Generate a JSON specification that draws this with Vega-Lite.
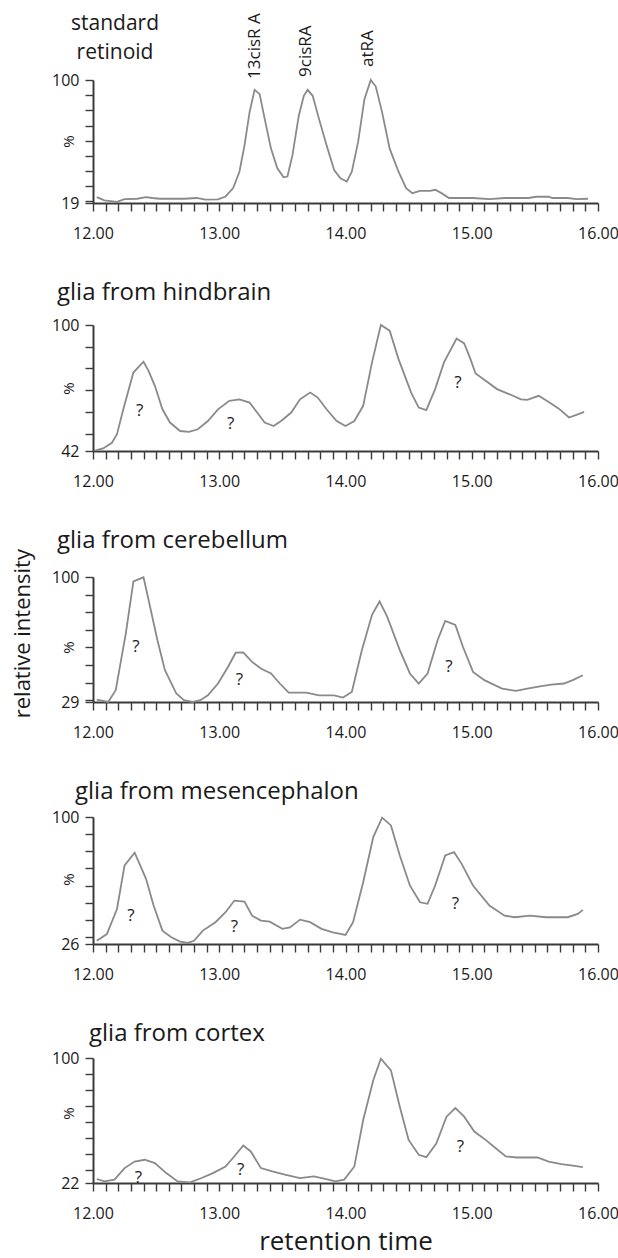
{
"$schema": "https://vega.github.io/schema/vega-lite/v6.json",
"background": "white",
"padding": {"top": 13, "left": 11, "right": 0, "bottom": 3},
"title": {"text": "relative intensity", "orient": "left", "anchor": "middle", "fontSize": 22, "offset": 17},
"spacing": 40,
"config": {
  "view": {"stroke": null},
  "font": "Open Sans",
  "axis": {"grid": false, "domainColor": "#3a3a3a", "domainWidth": 2, "tickColor": "#3a3a3a", "tickWidth": 1.4, "tickSize": 8, "labelFont": "Open Sans", "labelFontSize": 16, "labelColor": "#1a1a1a", "labelOverlap": false, "labelFlush": false, "titleFont": "Open Sans", "titleFontWeight": "normal", "titleColor": "#1a1a1a"},
  "axisX": {"labelPadding": 14},
  "axisY": {"labelPadding": 6, "titleFontSize": 15, "titleX": -25, "titleBaseline": "middle", "titleAlign": "center", "titleAngle": -90},
  "title": {"font": "Open Sans", "fontWeight": "normal", "fontSize": 24, "color": "#1a1a1a", "baseline": "bottom"}
},
"datasets": {
  "curves": [
{"sample":"standard","time":12.03,"intensity":22.9},{"sample":"standard","time":12.09,"intensity":20.7},{"sample":"standard","time":12.19,"intensity":19.7},{"sample":"standard","time":12.25,"intensity":21.6},{"sample":"standard","time":12.35,"intensity":21.8},{"sample":"standard","time":12.42,"intensity":22.9},{"sample":"standard","time":12.47,"intensity":22.3},{"sample":"standard","time":12.53,"intensity":21.8},{"sample":"standard","time":12.63,"intensity":21.8},{"sample":"standard","time":12.72,"intensity":21.8},{"sample":"standard","time":12.82,"intensity":22.3},{"sample":"standard","time":12.89,"intensity":21.2},{"sample":"standard","time":12.99,"intensity":21.4},{"sample":"standard","time":13.05,"intensity":23.3},{"sample":"standard","time":13.11,"intensity":28.8},{"sample":"standard","time":13.16,"intensity":39.6},{"sample":"standard","time":13.20,"intensity":57.0},{"sample":"standard","time":13.24,"intensity":78.7},{"sample":"standard","time":13.28,"intensity":93.5},{"sample":"standard","time":13.32,"intensity":90.7},{"sample":"standard","time":13.36,"intensity":74.4},{"sample":"standard","time":13.41,"intensity":54.8},{"sample":"standard","time":13.46,"intensity":41.8},{"sample":"standard","time":13.51,"intensity":35.9},{"sample":"standard","time":13.54,"intensity":36.4},{"sample":"standard","time":13.58,"intensity":50.5},{"sample":"standard","time":13.63,"intensity":76.5},{"sample":"standard","time":13.67,"intensity":89.6},{"sample":"standard","time":13.70,"intensity":93.5},{"sample":"standard","time":13.74,"intensity":89.6},{"sample":"standard","time":13.79,"intensity":74.4},{"sample":"standard","time":13.85,"intensity":57.0},{"sample":"standard","time":13.91,"intensity":40.7},{"sample":"standard","time":13.96,"intensity":35.3},{"sample":"standard","time":14.01,"intensity":33.1},{"sample":"standard","time":14.05,"intensity":39.6},{"sample":"standard","time":14.10,"intensity":59.2},{"sample":"standard","time":14.15,"intensity":87.4},{"sample":"standard","time":14.20,"intensity":100},{"sample":"standard","time":14.24,"intensity":95.7},{"sample":"standard","time":14.29,"intensity":78.7},{"sample":"standard","time":14.35,"intensity":54.8},{"sample":"standard","time":14.42,"intensity":39.6},{"sample":"standard","time":14.48,"intensity":28.8},{"sample":"standard","time":14.53,"intensity":25.5},{"sample":"standard","time":14.59,"intensity":27.0},{"sample":"standard","time":14.67,"intensity":27.0},{"sample":"standard","time":14.71,"intensity":27.7},{"sample":"standard","time":14.76,"intensity":25.5},{"sample":"standard","time":14.82,"intensity":22.3},{"sample":"standard","time":14.92,"intensity":22.3},{"sample":"standard","time":15.01,"intensity":22.3},{"sample":"standard","time":15.14,"intensity":21.6},{"sample":"standard","time":15.26,"intensity":22.3},{"sample":"standard","time":15.45,"intensity":22.3},{"sample":"standard","time":15.51,"intensity":23.1},{"sample":"standard","time":15.61,"intensity":23.1},{"sample":"standard","time":15.64,"intensity":22.3},{"sample":"standard","time":15.76,"intensity":22.3},{"sample":"standard","time":15.83,"intensity":21.6},{"sample":"standard","time":15.92,"intensity":21.8},
{"sample":"hindbrain","time":12.02,"intensity":42.3},{"sample":"hindbrain","time":12.08,"intensity":43.2},{"sample":"hindbrain","time":12.15,"intensity":45.8},{"sample":"hindbrain","time":12.19,"intensity":49.7},{"sample":"hindbrain","time":12.24,"intensity":61.2},{"sample":"hindbrain","time":12.32,"intensity":78.1},{"sample":"hindbrain","time":12.40,"intensity":83.1},{"sample":"hindbrain","time":12.44,"intensity":78.9},{"sample":"hindbrain","time":12.49,"intensity":72.0},{"sample":"hindbrain","time":12.55,"intensity":61.2},{"sample":"hindbrain","time":12.61,"intensity":55.1},{"sample":"hindbrain","time":12.69,"intensity":51.2},{"sample":"hindbrain","time":12.76,"intensity":50.8},{"sample":"hindbrain","time":12.83,"intensity":52.0},{"sample":"hindbrain","time":12.91,"intensity":55.8},{"sample":"hindbrain","time":12.99,"intensity":61.2},{"sample":"hindbrain","time":13.08,"intensity":65.1},{"sample":"hindbrain","time":13.16,"intensity":65.8},{"sample":"hindbrain","time":13.24,"intensity":64.3},{"sample":"hindbrain","time":13.30,"intensity":59.7},{"sample":"hindbrain","time":13.36,"intensity":55.1},{"sample":"hindbrain","time":13.43,"intensity":53.5},{"sample":"hindbrain","time":13.49,"intensity":55.8},{"sample":"hindbrain","time":13.57,"intensity":59.7},{"sample":"hindbrain","time":13.64,"intensity":65.8},{"sample":"hindbrain","time":13.72,"intensity":68.9},{"sample":"hindbrain","time":13.78,"intensity":66.6},{"sample":"hindbrain","time":13.85,"intensity":61.2},{"sample":"hindbrain","time":13.93,"intensity":55.8},{"sample":"hindbrain","time":14.00,"intensity":53.5},{"sample":"hindbrain","time":14.07,"intensity":55.8},{"sample":"hindbrain","time":14.14,"intensity":62.8},{"sample":"hindbrain","time":14.21,"intensity":82.8},{"sample":"hindbrain","time":14.28,"intensity":100},{"sample":"hindbrain","time":14.35,"intensity":97.4},{"sample":"hindbrain","time":14.42,"intensity":84.3},{"sample":"hindbrain","time":14.52,"intensity":68.9},{"sample":"hindbrain","time":14.58,"intensity":62.0},{"sample":"hindbrain","time":14.64,"intensity":60.8},{"sample":"hindbrain","time":14.71,"intensity":70.5},{"sample":"hindbrain","time":14.78,"intensity":82.8},{"sample":"hindbrain","time":14.88,"intensity":93.8},{"sample":"hindbrain","time":14.94,"intensity":91.5},{"sample":"hindbrain","time":14.99,"intensity":84.3},{"sample":"hindbrain","time":15.03,"intensity":77.7},{"sample":"hindbrain","time":15.11,"intensity":74.3},{"sample":"hindbrain","time":15.20,"intensity":70.5},{"sample":"hindbrain","time":15.30,"intensity":68.1},{"sample":"hindbrain","time":15.39,"intensity":65.8},{"sample":"hindbrain","time":15.44,"intensity":65.5},{"sample":"hindbrain","time":15.53,"intensity":67.4},{"sample":"hindbrain","time":15.61,"intensity":64.6},{"sample":"hindbrain","time":15.69,"intensity":61.5},{"sample":"hindbrain","time":15.77,"intensity":57.4},{"sample":"hindbrain","time":15.84,"intensity":58.9},{"sample":"hindbrain","time":15.89,"intensity":60.0},
{"sample":"cerebellum","time":12.03,"intensity":30.3},{"sample":"cerebellum","time":12.12,"intensity":29.0},{"sample":"cerebellum","time":12.18,"intensity":35.7},{"sample":"cerebellum","time":12.26,"intensity":68.0},{"sample":"cerebellum","time":12.32,"intensity":97.5},{"sample":"cerebellum","time":12.40,"intensity":99.8},{"sample":"cerebellum","time":12.44,"intensity":87.0},{"sample":"cerebellum","time":12.51,"intensity":64.2},{"sample":"cerebellum","time":12.57,"intensity":47.1},{"sample":"cerebellum","time":12.66,"intensity":33.8},{"sample":"cerebellum","time":12.72,"intensity":30.0},{"sample":"cerebellum","time":12.79,"intensity":29.0},{"sample":"cerebellum","time":12.85,"intensity":30.0},{"sample":"cerebellum","time":12.91,"intensity":32.8},{"sample":"cerebellum","time":12.99,"intensity":39.5},{"sample":"cerebellum","time":13.07,"intensity":49.0},{"sample":"cerebellum","time":13.13,"intensity":57.0},{"sample":"cerebellum","time":13.19,"intensity":57.2},{"sample":"cerebellum","time":13.26,"intensity":51.8},{"sample":"cerebellum","time":13.33,"intensity":48.0},{"sample":"cerebellum","time":13.41,"intensity":45.2},{"sample":"cerebellum","time":13.48,"intensity":39.5},{"sample":"cerebellum","time":13.55,"intensity":34.3},{"sample":"cerebellum","time":13.69,"intensity":34.3},{"sample":"cerebellum","time":13.79,"intensity":32.8},{"sample":"cerebellum","time":13.91,"intensity":32.8},{"sample":"cerebellum","time":13.98,"intensity":31.5},{"sample":"cerebellum","time":14.05,"intensity":34.7},{"sample":"cerebellum","time":14.13,"intensity":58.5},{"sample":"cerebellum","time":14.21,"intensity":78.5},{"sample":"cerebellum","time":14.27,"intensity":86.1},{"sample":"cerebellum","time":14.33,"intensity":77.5},{"sample":"cerebellum","time":14.43,"intensity":58.5},{"sample":"cerebellum","time":14.51,"intensity":45.2},{"sample":"cerebellum","time":14.58,"intensity":39.5},{"sample":"cerebellum","time":14.65,"intensity":45.2},{"sample":"cerebellum","time":14.73,"intensity":64.2},{"sample":"cerebellum","time":14.79,"intensity":75.1},{"sample":"cerebellum","time":14.87,"intensity":72.8},{"sample":"cerebellum","time":14.93,"intensity":60.4},{"sample":"cerebellum","time":15.01,"intensity":46.1},{"sample":"cerebellum","time":15.10,"intensity":41.4},{"sample":"cerebellum","time":15.24,"intensity":36.6},{"sample":"cerebellum","time":15.35,"intensity":35.3},{"sample":"cerebellum","time":15.44,"intensity":36.6},{"sample":"cerebellum","time":15.54,"intensity":37.9},{"sample":"cerebellum","time":15.63,"intensity":38.9},{"sample":"cerebellum","time":15.73,"intensity":39.5},{"sample":"cerebellum","time":15.80,"intensity":41.4},{"sample":"cerebellum","time":15.88,"intensity":44.2},
{"sample":"mesencephalon","time":12.03,"intensity":27.9},{"sample":"mesencephalon","time":12.11,"intensity":31.8},{"sample":"mesencephalon","time":12.19,"intensity":46.4},{"sample":"mesencephalon","time":12.25,"intensity":71.8},{"sample":"mesencephalon","time":12.33,"intensity":79.2},{"sample":"mesencephalon","time":12.42,"intensity":64.0},{"sample":"mesencephalon","time":12.48,"intensity":48.4},{"sample":"mesencephalon","time":12.55,"intensity":33.8},{"sample":"mesencephalon","time":12.62,"intensity":29.9},{"sample":"mesencephalon","time":12.69,"intensity":27.4},{"sample":"mesencephalon","time":12.75,"intensity":26.6},{"sample":"mesencephalon","time":12.80,"intensity":27.9},{"sample":"mesencephalon","time":12.87,"intensity":33.8},{"sample":"mesencephalon","time":12.97,"intensity":38.7},{"sample":"mesencephalon","time":13.05,"intensity":44.5},{"sample":"mesencephalon","time":13.12,"intensity":51.3},{"sample":"mesencephalon","time":13.20,"intensity":50.7},{"sample":"mesencephalon","time":13.26,"intensity":42.5},{"sample":"mesencephalon","time":13.33,"intensity":39.6},{"sample":"mesencephalon","time":13.40,"intensity":39.0},{"sample":"mesencephalon","time":13.50,"intensity":34.8},{"sample":"mesencephalon","time":13.56,"intensity":35.7},{"sample":"mesencephalon","time":13.64,"intensity":40.2},{"sample":"mesencephalon","time":13.72,"intensity":38.7},{"sample":"mesencephalon","time":13.81,"intensity":34.8},{"sample":"mesencephalon","time":13.90,"intensity":32.8},{"sample":"mesencephalon","time":14.00,"intensity":31.3},{"sample":"mesencephalon","time":14.06,"intensity":38.7},{"sample":"mesencephalon","time":14.14,"intensity":62.0},{"sample":"mesencephalon","time":14.22,"intensity":88.3},{"sample":"mesencephalon","time":14.29,"intensity":99.6},{"sample":"mesencephalon","time":14.36,"intensity":95.1},{"sample":"mesencephalon","time":14.43,"intensity":77.6},{"sample":"mesencephalon","time":14.51,"intensity":60.1},{"sample":"mesencephalon","time":14.59,"intensity":50.3},{"sample":"mesencephalon","time":14.65,"intensity":49.4},{"sample":"mesencephalon","time":14.71,"intensity":60.1},{"sample":"mesencephalon","time":14.79,"intensity":77.6},{"sample":"mesencephalon","time":14.86,"intensity":79.5},{"sample":"mesencephalon","time":14.92,"intensity":72.7},{"sample":"mesencephalon","time":15.01,"intensity":60.1},{"sample":"mesencephalon","time":15.14,"intensity":48.4},{"sample":"mesencephalon","time":15.26,"intensity":42.5},{"sample":"mesencephalon","time":15.34,"intensity":41.6},{"sample":"mesencephalon","time":15.46,"intensity":42.5},{"sample":"mesencephalon","time":15.59,"intensity":41.6},{"sample":"mesencephalon","time":15.76,"intensity":41.6},{"sample":"mesencephalon","time":15.84,"intensity":43.5},{"sample":"mesencephalon","time":15.88,"intensity":45.9},
{"sample":"cortex","time":12.03,"intensity":24.5},{"sample":"cortex","time":12.09,"intensity":23.0},{"sample":"cortex","time":12.17,"intensity":24.1},{"sample":"cortex","time":12.25,"intensity":31.3},{"sample":"cortex","time":12.33,"intensity":35.4},{"sample":"cortex","time":12.41,"intensity":36.5},{"sample":"cortex","time":12.49,"intensity":34.4},{"sample":"cortex","time":12.58,"intensity":28.2},{"sample":"cortex","time":12.67,"intensity":23.0},{"sample":"cortex","time":12.77,"intensity":22.4},{"sample":"cortex","time":12.86,"intensity":25.1},{"sample":"cortex","time":12.95,"intensity":28.2},{"sample":"cortex","time":13.05,"intensity":32.3},{"sample":"cortex","time":13.13,"intensity":39.6},{"sample":"cortex","time":13.19,"intensity":45.4},{"sample":"cortex","time":13.25,"intensity":41.7},{"sample":"cortex","time":13.33,"intensity":31.3},{"sample":"cortex","time":13.42,"intensity":29.2},{"sample":"cortex","time":13.52,"intensity":27.2},{"sample":"cortex","time":13.64,"intensity":25.1},{"sample":"cortex","time":13.75,"intensity":26.1},{"sample":"cortex","time":13.83,"intensity":24.7},{"sample":"cortex","time":13.92,"intensity":23.0},{"sample":"cortex","time":13.99,"intensity":24.1},{"sample":"cortex","time":14.07,"intensity":32.3},{"sample":"cortex","time":14.14,"intensity":61.3},{"sample":"cortex","time":14.22,"intensity":86.1},{"sample":"cortex","time":14.28,"intensity":99.6},{"sample":"cortex","time":14.36,"intensity":92.3},{"sample":"cortex","time":14.43,"intensity":69.6},{"sample":"cortex","time":14.50,"intensity":48.9},{"sample":"cortex","time":14.58,"intensity":39.6},{"sample":"cortex","time":14.64,"intensity":38.1},{"sample":"cortex","time":14.72,"intensity":46.8},{"sample":"cortex","time":14.80,"intensity":63.4},{"sample":"cortex","time":14.87,"intensity":68.8},{"sample":"cortex","time":14.94,"intensity":63.4},{"sample":"cortex","time":15.02,"intensity":54.1},{"sample":"cortex","time":15.11,"intensity":48.9},{"sample":"cortex","time":15.19,"intensity":43.7},{"sample":"cortex","time":15.27,"intensity":38.6},{"sample":"cortex","time":15.36,"intensity":37.9},{"sample":"cortex","time":15.52,"intensity":37.9},{"sample":"cortex","time":15.61,"intensity":35.4},{"sample":"cortex","time":15.71,"intensity":33.8},{"sample":"cortex","time":15.80,"intensity":32.8},{"sample":"cortex","time":15.88,"intensity":31.9}
  ],
  "notes": [
{"sample":"standard","time":13.28,"intensity":100.7,"label":"13cisR A"},
{"sample":"standard","time":13.69,"intensity":102,"label":"9cisRA"},
{"sample":"standard","time":14.18,"intensity":108.6,"label":"atRA"},
{"sample":"hindbrain","time":12.37,"intensity":60.5,"label":"?"},
{"sample":"hindbrain","time":13.09,"intensity":54.3,"label":"?"},
{"sample":"hindbrain","time":14.89,"intensity":73.5,"label":"?"},
{"sample":"cerebellum","time":12.34,"intensity":60.4,"label":"?"},
{"sample":"cerebellum","time":13.16,"intensity":41.4,"label":"?"},
{"sample":"cerebellum","time":14.82,"intensity":49.0,"label":"?"},
{"sample":"mesencephalon","time":12.30,"intensity":42.5,"label":"?"},
{"sample":"mesencephalon","time":13.12,"intensity":35.8,"label":"?"},
{"sample":"mesencephalon","time":14.87,"intensity":49.4,"label":"?"},
{"sample":"cortex","time":12.36,"intensity":25.1,"label":"?"},
{"sample":"cortex","time":13.17,"intensity":30.3,"label":"?"},
{"sample":"cortex","time":14.91,"intensity":44.2,"label":"?"}
  ]
},
"vconcat": [
{
  "width": 505, "height": 123,
  "title": {"text": ["standard", "retinoid"], "anchor": "start", "frame": "group", "align": "center", "dx": 22, "dy": 50, "offset": 0, "fontSize": 21, "lineHeight": 29},
  "encoding": {
    "x": {"field": "time", "type": "quantitative", "scale": {"domain": [12, 16], "nice": false, "zero": false},
      "axis": {"title": null, "values": [12,12.1,12.2,12.3,12.4,12.5,12.6,12.7,12.8,12.9,13,13.1,13.2,13.3,13.4,13.5,13.6,13.7,13.8,13.9,14,14.1,14.2,14.3,14.4,14.5,14.6,14.7,14.8,14.9,15,15.1,15.2,15.3,15.4,15.5,15.6,15.7,15.8,15.9,16],
        "labelExpr": "abs(datum.value - round(datum.value)) < 0.01 ? format(datum.value, '.2f') : ''",
        "encode": {"ticks": {"update": {"y2": {"signal": "abs(datum.value*2 - round(datum.value*2)) < 0.01 ? 8 : 4"}}}}}},
    "y": {"field": "intensity", "type": "quantitative", "scale": {"domain": [19, 100], "nice": false, "zero": false},
      "axis": {"title": "%", "titleY": 61, "values": [19,20,30,40,50,60,70,80,90,100],
        "labelExpr": "datum.value == 100 || datum.value == 19 ? datum.label : ''",
        "encode": {"ticks": {"update": {"x2": {"signal": "datum.value == 50 || datum.value == 100 ? -8 : (datum.value % 10 == 0 ? -3 : 0)"}}}}}}
  },
  "layer": [
    {"data": {"name": "curves"}, "transform": [{"filter": "datum.sample == 'standard'"}],
     "mark": {"type": "line", "color": "#8a8a8a", "strokeWidth": 1.8}},
    {"data": {"name": "notes"}, "transform": [{"filter": "datum.sample == 'standard'"}],
     "mark": {"type": "text", "angle": 270, "align": "left", "baseline": "middle", "fontSize": 17, "color": "#1a1a1a"},
     "encoding": {"text": {"field": "label"}}}
  ]
},
{
  "width": 505, "height": 126,
  "title": {"text": "glia from hindbrain", "anchor": "start", "frame": "group", "dx": -36, "offset": 12},
  "encoding": {
    "x": {"field": "time", "type": "quantitative", "scale": {"domain": [12, 16], "nice": false, "zero": false},
      "axis": {"title": null, "values": [12,12.1,12.2,12.3,12.4,12.5,12.6,12.7,12.8,12.9,13,13.1,13.2,13.3,13.4,13.5,13.6,13.7,13.8,13.9,14,14.1,14.2,14.3,14.4,14.5,14.6,14.7,14.8,14.9,15,15.1,15.2,15.3,15.4,15.5,15.6,15.7,15.8,15.9,16],
        "labelExpr": "abs(datum.value - round(datum.value)) < 0.01 ? format(datum.value, '.2f') : ''",
        "encode": {"ticks": {"update": {"y2": {"signal": "abs(datum.value*2 - round(datum.value*2)) < 0.01 ? 8 : 4"}}}}}},
    "y": {"field": "intensity", "type": "quantitative", "scale": {"domain": [42, 100], "nice": false, "zero": false},
      "axis": {"title": "%", "titleY": 63, "values": [42,50,60,70,80,90,100],
        "labelExpr": "datum.value == 100 || datum.value == 42 ? datum.label : ''",
        "encode": {"ticks": {"update": {"x2": {"signal": "datum.value == 50 || datum.value == 100 ? -8 : (datum.value % 10 == 0 ? -3 : 0)"}}}}}}
  },
  "layer": [
    {"data": {"name": "curves"}, "transform": [{"filter": "datum.sample == 'hindbrain'"}],
     "mark": {"type": "line", "color": "#8a8a8a", "strokeWidth": 1.8}},
    {"data": {"name": "notes"}, "transform": [{"filter": "datum.sample == 'hindbrain'"}],
     "mark": {"type": "text", "align": "center", "baseline": "middle", "fontSize": 17, "color": "#1a1a1a"},
     "encoding": {"text": {"field": "label"}}}
  ]
},
{
  "width": 505, "height": 125,
  "title": {"text": "glia from cerebellum", "anchor": "start", "frame": "group", "dx": -36, "offset": 16},
  "encoding": {
    "x": {"field": "time", "type": "quantitative", "scale": {"domain": [12, 16], "nice": false, "zero": false},
      "axis": {"title": null, "values": [12,12.1,12.2,12.3,12.4,12.5,12.6,12.7,12.8,12.9,13,13.1,13.2,13.3,13.4,13.5,13.6,13.7,13.8,13.9,14,14.1,14.2,14.3,14.4,14.5,14.6,14.7,14.8,14.9,15,15.1,15.2,15.3,15.4,15.5,15.6,15.7,15.8,15.9,16],
        "labelExpr": "abs(datum.value - round(datum.value)) < 0.01 ? format(datum.value, '.2f') : ''",
        "encode": {"ticks": {"update": {"y2": {"signal": "abs(datum.value*2 - round(datum.value*2)) < 0.01 ? 8 : 4"}}}}}},
    "y": {"field": "intensity", "type": "quantitative", "scale": {"domain": [29, 100], "nice": false, "zero": false},
      "axis": {"title": "%", "titleY": 70, "values": [29,30,40,50,60,70,80,90,100],
        "labelExpr": "datum.value == 100 || datum.value == 29 ? datum.label : ''",
        "encode": {"ticks": {"update": {"x2": {"signal": "datum.value == 50 || datum.value == 100 ? -8 : (datum.value % 10 == 0 ? -3 : 0)"}}}}}}
  },
  "layer": [
    {"data": {"name": "curves"}, "transform": [{"filter": "datum.sample == 'cerebellum'"}],
     "mark": {"type": "line", "color": "#8a8a8a", "strokeWidth": 1.8}},
    {"data": {"name": "notes"}, "transform": [{"filter": "datum.sample == 'cerebellum'"}],
     "mark": {"type": "text", "align": "center", "baseline": "middle", "fontSize": 17, "color": "#1a1a1a"},
     "encoding": {"text": {"field": "label"}}}
  ]
},
{
  "width": 505, "height": 127,
  "title": {"text": "glia from mesencephalon", "anchor": "start", "frame": "group", "dx": -18, "offset": 5},
  "encoding": {
    "x": {"field": "time", "type": "quantitative", "scale": {"domain": [12, 16], "nice": false, "zero": false},
      "axis": {"title": null, "values": [12,12.1,12.2,12.3,12.4,12.5,12.6,12.7,12.8,12.9,13,13.1,13.2,13.3,13.4,13.5,13.6,13.7,13.8,13.9,14,14.1,14.2,14.3,14.4,14.5,14.6,14.7,14.8,14.9,15,15.1,15.2,15.3,15.4,15.5,15.6,15.7,15.8,15.9,16],
        "labelExpr": "abs(datum.value - round(datum.value)) < 0.01 ? format(datum.value, '.2f') : ''",
        "encode": {"ticks": {"update": {"y2": {"signal": "abs(datum.value*2 - round(datum.value*2)) < 0.01 ? 8 : 4"}}}}}},
    "y": {"field": "intensity", "type": "quantitative", "scale": {"domain": [26, 100], "nice": false, "zero": false},
      "axis": {"title": "%", "titleY": 62, "values": [26,30,40,50,60,70,80,90,100],
        "labelExpr": "datum.value == 100 || datum.value == 26 ? datum.label : ''",
        "encode": {"ticks": {"update": {"x2": {"signal": "datum.value == 50 || datum.value == 100 ? -8 : (datum.value % 10 == 0 ? -3 : 0)"}}}}}}
  },
  "layer": [
    {"data": {"name": "curves"}, "transform": [{"filter": "datum.sample == 'mesencephalon'"}],
     "mark": {"type": "line", "color": "#8a8a8a", "strokeWidth": 1.8}},
    {"data": {"name": "notes"}, "transform": [{"filter": "datum.sample == 'mesencephalon'"}],
     "mark": {"type": "text", "align": "center", "baseline": "middle", "fontSize": 17, "color": "#1a1a1a"},
     "encoding": {"text": {"field": "label"}}}
  ]
},
{
  "width": 505, "height": 125,
  "title": {"text": "glia from cortex", "anchor": "start", "frame": "group", "dx": -4, "offset": 4},
  "encoding": {
    "x": {"field": "time", "type": "quantitative", "scale": {"domain": [12, 16], "nice": false, "zero": false},
      "axis": {"title": "retention time", "titleFontSize": 26, "titlePadding": 7, "values": [12,12.1,12.2,12.3,12.4,12.5,12.6,12.7,12.8,12.9,13,13.1,13.2,13.3,13.4,13.5,13.6,13.7,13.8,13.9,14,14.1,14.2,14.3,14.4,14.5,14.6,14.7,14.8,14.9,15,15.1,15.2,15.3,15.4,15.5,15.6,15.7,15.8,15.9,16],
        "labelExpr": "abs(datum.value - round(datum.value)) < 0.01 ? format(datum.value, '.2f') : ''",
        "encode": {"ticks": {"update": {"y2": {"signal": "abs(datum.value*2 - round(datum.value*2)) < 0.01 ? 8 : 4"}}}}}},
    "y": {"field": "intensity", "type": "quantitative", "scale": {"domain": [22, 100], "nice": false, "zero": false},
      "axis": {"title": "%", "titleY": 55, "values": [22,30,40,50,60,70,80,90,100],
        "labelExpr": "datum.value == 100 || datum.value == 22 ? datum.label : ''",
        "encode": {"ticks": {"update": {"x2": {"signal": "datum.value == 50 || datum.value == 100 ? -8 : (datum.value % 10 == 0 ? -3 : 0)"}}}}}}
  },
  "layer": [
    {"data": {"name": "curves"}, "transform": [{"filter": "datum.sample == 'cortex'"}],
     "mark": {"type": "line", "color": "#8a8a8a", "strokeWidth": 1.8}},
    {"data": {"name": "notes"}, "transform": [{"filter": "datum.sample == 'cortex'"}],
     "mark": {"type": "text", "align": "center", "baseline": "middle", "fontSize": 17, "color": "#1a1a1a"},
     "encoding": {"text": {"field": "label"}}}
  ]
}
]
}
